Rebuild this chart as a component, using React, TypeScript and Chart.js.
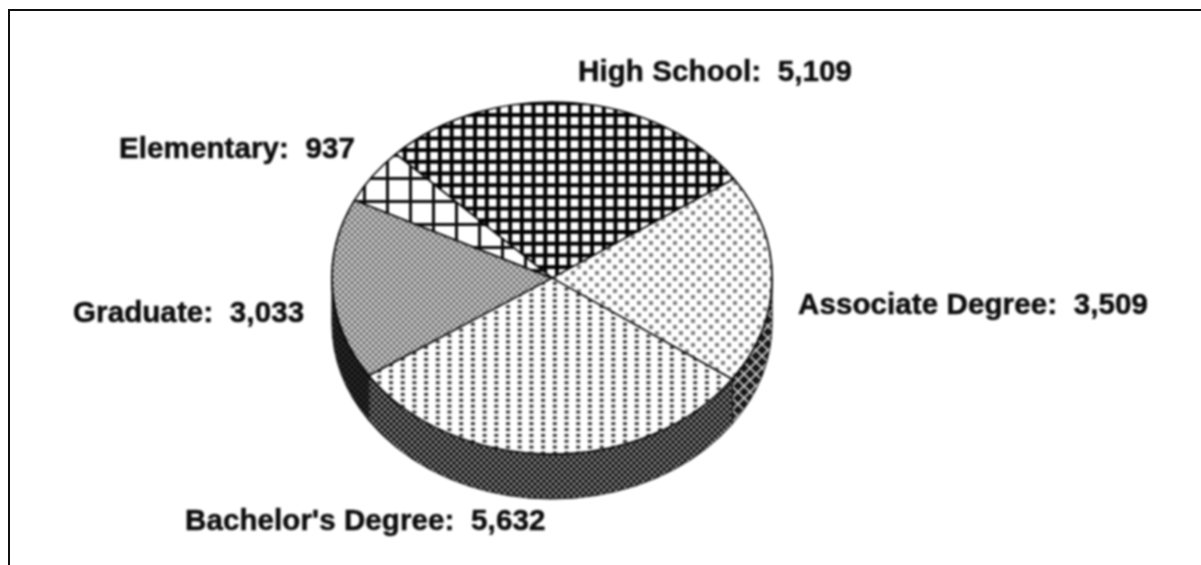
import React, { useEffect, useRef } from "react";
import { Chart, registerables } from "chart.js";

Chart.register(...registerables);

const categories = ["High School", "Associate Degree", "Bachelor's Degree", "Graduate", "Elementary"];
const enrollment = [5109, 3509, 5632, 3033, 937];
const labelX = [578, 798, 185, 73, 119];
const labelY = [81, 314, 530, 322, 158];

const SQUASH = 0.8;
const DEPTH = 45;
const CX = 552;
const CY = 278;
const FONT = 'bold 29.5px "Liberation Sans", Arial, sans-serif';

// Tiles are laid out in page pixels, undoing the ellipse squash applied while the pie is drawn.
function tile(
  w: number,
  h: number,
  paint: (c: CanvasRenderingContext2D) => void,
  scale = 1,
  phaseX = 0,
  phaseY = 0
): CanvasPattern {
  const cv = document.createElement("canvas");
  cv.width = w;
  cv.height = h;
  const c = cv.getContext("2d")!;
  paint(c);
  const p = c.createPattern(cv, "repeat")!;
  const m = new DOMMatrix()
    .translate(CX, CY)
    .scale(1, 1 / SQUASH)
    .translate(-CX, -CY)
    .translate(phaseX, phaseY)
    .scale(scale, scale);
  p.setTransform(m);
  return p;
}

function makePatterns() {
  const highSchool = tile(
    12,
    12,
    (c) => {
      c.fillStyle = "#fff";
      c.fillRect(0, 0, 12, 12);
      c.fillStyle = "#000";
      c.fillRect(0, 0, 4, 12);
      c.fillRect(0, 0, 12, 4);
    },
    11.7 / 12,
    555,
    113
  );
  const elementary = tile(
    23,
    23,
    (c) => {
      c.fillStyle = "#fff";
      c.fillRect(0, 0, 23, 23);
      c.fillStyle = "#0c0c0c";
      c.fillRect(0, 0, 3, 23);
      c.fillRect(0, 0, 23, 3);
    },
    1,
    386,
    177
  );
  const associate = tile(12, 12, (c) => {
    c.fillStyle = "#fff";
    c.fillRect(0, 0, 12, 12);
    c.fillStyle = "#808080";
    c.fillRect(1, 1, 4, 4);
    c.fillRect(7, 7, 4, 4);
  });
  const bachelor = tile(12, 6, (c) => {
    c.fillStyle = "#fff";
    c.fillRect(0, 0, 12, 6);
    c.fillStyle = "#2c2c2c";
    c.fillRect(3, 1, 4, 3);
  }, 11.7 / 12);
  const graduate = tile(6, 6, (c) => {
    c.fillStyle = "#969696";
    c.fillRect(0, 0, 6, 6);
    c.fillStyle = "#e4e4e4";
    c.fillRect(0, 0, 2, 2);
    c.fillRect(3, 3, 2, 2);
    c.fillStyle = "#484848";
    c.fillRect(3, 0, 2, 1);
    c.fillRect(0, 3, 2, 1);
  });
  const sideAssociate = tile(12, 12, (c) => {
    c.fillStyle = "#161616";
    c.fillRect(0, 0, 12, 12);
    c.strokeStyle = "#d0d0d0";
    c.lineWidth = 1.6;
    c.beginPath();
    c.moveTo(-1, 1);
    c.lineTo(13, 15);
    c.moveTo(-1, -11);
    c.lineTo(13, 3);
    c.moveTo(13, 1);
    c.lineTo(-1, 15);
    c.moveTo(13, -11);
    c.lineTo(-1, 3);
    c.stroke();
  });
  const sideBachelor = tile(6, 6, (c) => {
    c.fillStyle = "#222";
    c.fillRect(0, 0, 6, 6);
    c.fillStyle = "#c4c4c4";
    c.fillRect(0, 0, 2, 2);
    c.fillRect(3, 3, 2, 2);
  });
  const sideGraduate = tile(6, 6, (c) => {
    c.fillStyle = "#121212";
    c.fillRect(0, 0, 6, 6);
    c.fillStyle = "#3e3e3e";
    c.fillRect(0, 0, 2, 2);
    c.fillRect(3, 3, 2, 2);
  });
  return {
    faces: [highSchool, associate, bachelor, graduate, elementary],
    sides: [null, sideAssociate, sideBachelor, sideGraduate, null] as (CanvasPattern | null)[],
  };
}

export default function App() {
  const ref = useRef<HTMLCanvasElement>(null);
  useEffect(() => {
    const { faces, sides } = makePatterns();
    const squashPlugin = {
      id: "squash",
      beforeDatasetsDraw(chart: any) {
        const ctx = chart.ctx;
        const arcs = chart.getDatasetMeta(0).data;
        const cx = arcs[0].x;
        const cy = arcs[0].y;
        ctx.save();
        ctx.translate(cx, cy);
        ctx.scale(1, SQUASH);
        ctx.translate(-cx, -cy);
        const d = DEPTH / SQUASH;
        arcs.forEach((a: any, i: number) => {
          const side = sides[i];
          if (!side) return;
          const r = a.outerRadius;
          const norm = (v: number) => ((v % (2 * Math.PI)) + 2 * Math.PI) % (2 * Math.PI);
          let s = norm(a.startAngle);
          let e = s + (a.endAngle - a.startAngle);
          if (s > Math.PI) s -= 2 * Math.PI;
          if (s > Math.PI) return;
          if (e > 2 * Math.PI) e -= 2 * Math.PI;
          const from = Math.max(s, 0);
          const to = Math.min(e, Math.PI);
          if (to <= from) return;
          ctx.beginPath();
          ctx.arc(cx, cy, r, from, to);
          ctx.arc(cx, cy + d, r, to, from, true);
          ctx.closePath();
          ctx.fillStyle = side;
          ctx.fill();
          ctx.lineWidth = 1;
          ctx.strokeStyle = "#111";
          ctx.stroke();
        });
      },
      afterDatasetsDraw(chart: any) {
        const ctx = chart.ctx;
        ctx.restore();
        ctx.save();
        ctx.font = FONT;
        ctx.letterSpacing = "0.1px";
        ctx.fillStyle = "#0c0c0c";
        ctx.strokeStyle = "#0c0c0c";
        ctx.lineWidth = 0.5;
        ctx.textBaseline = "alphabetic";
        categories.forEach((name, i) => {
          const text = name + ":  " + enrollment[i].toLocaleString("en-US");
          ctx.fillText(text, labelX[i], labelY[i]);
          ctx.strokeText(text, labelX[i], labelY[i]);
        });
        ctx.restore();
      },
    };
    const chart = new Chart(ref.current!, {
      type: "pie",
      data: {
        labels: categories,
        datasets: [
          {
            data: enrollment,
            backgroundColor: faces,
            borderColor: "#000",
            borderWidth: 1.8,
            borderAlign: "center",
            clip: false,
          } as any,
        ],
      },
      options: {
        responsive: false,
        animation: false,
        rotation: -45.2,
        layout: { padding: { left: 331, right: 428, top: 57, bottom: 66 } },
        plugins: { legend: { display: false }, tooltip: { enabled: false } },
      },
      plugins: [squashPlugin],
    });
    return () => chart.destroy();
  }, []);
  return (
    <div style={{ position: "fixed", left: 0, top: 0, width: 1201, height: 565, background: "#fff", overflow: "hidden" }}>
      <canvas ref={ref} width={1201} height={565} style={{ display: "block", filter: "blur(0.8px)" }} />
      <div style={{ position: "absolute", left: 8, top: 9, right: 0, bottom: 0, borderTop: "2px solid #111", borderLeft: "2px solid #111" }} />
    </div>
  );
}
